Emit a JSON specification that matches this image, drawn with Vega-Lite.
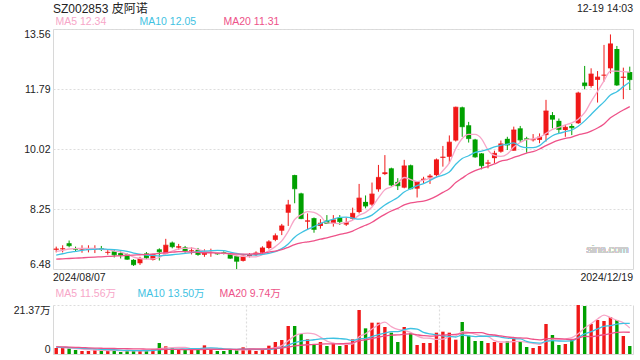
{
  "$schema": "https://vega.github.io/schema/vega-lite/v6.json",
  "autosize": {"type": "pad"},
  "padding": {"left": 13, "top": 3, "right": 6, "bottom": 6},
  "background": "white",
  "config": {
    "font": "Liberation Sans",
    "title": {"font": "Liberation Sans, Noto Sans CJK SC", "fontWeight": "normal", "color": "#222"},
    "axis": {"labelFont": "Liberation Sans, Noto Sans CJK SC", "labelFontSize": 10.5, "labelColor": "#222"},
    "legend": {"labelFont": "Liberation Sans, Noto Sans CJK SC", "labelFontSize": 10.5}
  },
  "title": {"text": "SZ002853 皮阿诺", "anchor": "start", "frame": "group", "fontSize": 12, "offset": -13},
  "datasets": {
    "k": [
      {"d":"2024-08-07","o":7.05,"h":7.14,"l":6.97,"c":7.07,"v":2.62,"m5":7.00,"m10":6.89,"m20":6.77,"v5":3.0,"v10":3.0,"v20":3.2},
      {"d":"2024-08-08","o":7.06,"h":7.18,"l":6.97,"c":7.08,"v":2.62,"m5":7.03,"m10":6.93,"m20":6.78,"v5":2.8,"v10":2.9,"v20":3.1},
      {"d":"2024-08-09","o":7.24,"h":7.32,"l":7.12,"c":7.17,"v":2.47,"m5":7.07,"m10":6.97,"m20":6.79,"v5":2.6,"v10":2.8,"v20":3.0},
      {"d":"2024-08-12","o":7.08,"h":7.14,"l":6.99,"c":7.06,"v":1.74,"m5":7.08,"m10":7.00,"m20":6.80,"v5":2.4,"v10":2.65,"v20":2.9},
      {"d":"2024-08-13","o":7.06,"h":7.18,"l":6.96,"c":7.07,"v":1.31,"m5":7.09,"m10":7.03,"m20":6.81,"v5":2.15,"v10":2.5,"v20":2.8},
      {"d":"2024-08-14","o":7.05,"h":7.18,"l":6.97,"c":7.06,"v":1.31,"m5":7.09,"m10":7.05,"m20":6.82,"v5":1.89,"v10":2.35,"v20":2.7},
      {"d":"2024-08-15","o":7.06,"h":7.18,"l":6.95,"c":7.07,"v":1.89,"m5":7.09,"m10":7.06,"m20":6.83,"v5":1.74,"v10":2.2,"v20":2.6},
      {"d":"2024-08-16","o":7.09,"h":7.16,"l":7.01,"c":7.06,"v":1.45,"m5":7.06,"m10":7.07,"m20":6.84,"v5":1.54,"v10":2.05,"v20":2.5},
      {"d":"2024-08-19","o":6.96,"h":7.04,"l":6.90,"c":6.97,"v":1.45,"m5":7.05,"m10":7.06,"m20":6.85,"v5":1.48,"v10":1.95,"v20":2.45},
      {"d":"2024-08-20","o":7.00,"h":7.04,"l":6.82,"c":6.90,"v":1.60,"m5":7.01,"m10":7.05,"m20":6.86,"v5":1.54,"v10":1.85,"v20":2.4},
      {"d":"2024-08-21","o":6.95,"h":7.00,"l":6.79,"c":6.89,"v":0.87,"m5":6.98,"m10":7.03,"m20":6.87,"v5":1.45,"v10":1.67,"v20":2.35},
      {"d":"2024-08-22","o":6.91,"h":6.94,"l":6.75,"c":6.77,"v":1.31,"m5":6.92,"m10":7.00,"m20":6.88,"v5":1.34,"v10":1.54,"v20":2.3},
      {"d":"2024-08-23","o":6.75,"h":6.77,"l":6.57,"c":6.61,"v":1.74,"m5":6.83,"m10":6.95,"m20":6.89,"v5":1.39,"v10":1.47,"v20":2.25},
      {"d":"2024-08-26","o":6.65,"h":6.84,"l":6.60,"c":6.79,"v":1.60,"m5":6.79,"m10":6.92,"m20":6.90,"v5":1.42,"v10":1.45,"v20":2.2},
      {"d":"2024-08-27","o":6.94,"h":6.98,"l":6.77,"c":6.81,"v":1.45,"m5":6.77,"m10":6.89,"m20":6.91,"v5":1.39,"v10":1.47,"v20":2.15},
      {"d":"2024-08-28","o":6.75,"h":6.93,"l":6.73,"c":6.91,"v":1.89,"m5":6.78,"m10":6.88,"m20":6.92,"v5":1.60,"v10":1.53,"v20":2.1},
      {"d":"2024-08-29","o":7.06,"h":7.09,"l":6.73,"c":6.99,"v":4.80,"m5":6.82,"m10":6.87,"m20":6.94,"v5":2.30,"v10":1.82,"v20":2.08},
      {"d":"2024-08-30","o":6.94,"h":7.37,"l":6.91,"c":7.18,"v":3.34,"m5":6.94,"m10":6.88,"m20":6.96,"v5":2.62,"v10":2.01,"v20":2.05},
      {"d":"2024-09-02","o":7.26,"h":7.29,"l":7.09,"c":7.14,"v":2.47,"m5":7.01,"m10":6.90,"m20":6.975,"v5":2.79,"v10":2.11,"v20":2.02},
      {"d":"2024-09-03","o":7.11,"h":7.22,"l":7.04,"c":7.14,"v":1.89,"m5":7.07,"m10":6.92,"m20":6.99,"v5":2.88,"v10":2.14,"v20":1.99},
      {"d":"2024-09-04","o":7.12,"h":7.16,"l":6.96,"c":7.02,"v":1.89,"m5":7.09,"m10":6.94,"m20":6.99,"v5":2.88,"v10":2.24,"v20":1.95},
      {"d":"2024-09-05","o":7.01,"h":7.12,"l":6.91,"c":7.02,"v":1.89,"m5":7.10,"m10":6.96,"m20":6.98,"v5":2.30,"v10":2.30,"v20":1.92},
      {"d":"2024-09-06","o":7.04,"h":7.10,"l":6.87,"c":6.91,"v":2.18,"m5":7.05,"m10":6.99,"m20":6.97,"v5":2.06,"v10":2.34,"v20":1.90},
      {"d":"2024-09-09","o":6.90,"h":7.06,"l":6.84,"c":6.96,"v":3.78,"m5":7.01,"m10":7.01,"m20":6.96,"v5":2.33,"v10":2.56,"v20":2.01},
      {"d":"2024-09-10","o":6.96,"h":7.08,"l":6.84,"c":6.97,"v":2.47,"m5":6.98,"m10":7.02,"m20":6.96,"v5":2.44,"v10":2.66,"v20":2.06},
      {"d":"2024-09-11","o":6.95,"h":6.98,"l":6.90,"c":6.93,"v":1.31,"m5":6.96,"m10":7.03,"m20":6.95,"v5":2.33,"v10":2.60,"v20":2.06},
      {"d":"2024-09-12","o":6.97,"h":7.00,"l":6.91,"c":6.94,"v":1.31,"m5":6.94,"m10":7.02,"m20":6.95,"v5":2.21,"v10":2.25,"v20":2.03},
      {"d":"2024-09-13","o":6.92,"h":6.94,"l":6.78,"c":6.80,"v":1.74,"m5":6.92,"m10":6.98,"m20":6.93,"v5":2.12,"v10":2.09,"v20":2.05},
      {"d":"2024-09-18","o":6.86,"h":6.88,"l":6.48,"c":6.71,"v":1.74,"m5":6.87,"m10":6.94,"m20":6.92,"v5":1.71,"v10":2.02,"v20":2.06},
      {"d":"2024-09-19","o":6.72,"h":6.88,"l":6.70,"c":6.86,"v":2.91,"m5":6.85,"m10":6.91,"m20":6.92,"v5":1.80,"v10":2.12,"v20":2.13},
      {"d":"2024-09-20","o":6.86,"h":6.95,"l":6.82,"c":6.90,"v":1.89,"m5":6.84,"m10":6.90,"m20":6.92,"v5":1.92,"v10":2.12,"v20":2.18},
      {"d":"2024-09-23","o":6.90,"h":7.00,"l":6.86,"c":6.95,"v":1.31,"m5":6.84,"m10":6.89,"m20":6.93,"v5":1.92,"v10":2.06,"v20":2.18},
      {"d":"2024-09-24","o":6.96,"h":7.15,"l":6.93,"c":7.10,"v":1.89,"m5":6.90,"m10":6.91,"m20":6.95,"v5":1.95,"v10":2.04,"v20":2.19},
      {"d":"2024-09-25","o":7.10,"h":7.33,"l":7.06,"c":7.28,"v":3.63,"m5":7.02,"m10":6.94,"m20":6.98,"v5":2.33,"v10":2.02,"v20":2.29},
      {"d":"2024-09-26","o":7.34,"h":7.53,"l":7.30,"c":7.46,"v":5.23,"m5":7.14,"m10":6.99,"m20":7.01,"v5":2.79,"v10":2.30,"v20":2.48},
      {"d":"2024-09-27","o":7.61,"h":7.81,"l":7.48,"c":7.75,"v":6.11,"m5":7.31,"m10":7.08,"m20":7.05,"v5":3.63,"v10":2.78,"v20":2.69},
      {"d":"2024-09-30","o":8.14,"h":8.52,"l":7.75,"c":8.37,"v":12.21,"m5":7.59,"m10":7.22,"m20":7.12,"v5":5.81,"v10":3.87,"v20":3.06},
      {"d":"2024-10-08","o":9.25,"h":9.26,"l":8.42,"c":8.85,"v":12.21,"m5":7.94,"m10":7.42,"m20":7.20,"v5":7.88,"v10":4.91,"v20":3.50},
      {"d":"2024-10-09","o":8.71,"h":8.73,"l":7.95,"c":7.97,"v":8.72,"m5":8.08,"m10":7.55,"m20":7.25,"v5":8.90,"v10":5.61,"v20":3.82},
      {"d":"2024-10-10","o":7.88,"h":8.12,"l":7.63,"c":7.90,"v":6.40,"m5":8.17,"m10":7.65,"m20":7.28,"v5":9.13,"v10":5.96,"v20":4.04},
      {"d":"2024-10-11","o":7.98,"h":8.00,"l":7.55,"c":7.65,"v":4.36,"m5":8.15,"m10":7.73,"m20":7.31,"v5":8.78,"v10":6.21,"v20":4.16},
      {"d":"2024-10-14","o":7.75,"h":7.95,"l":7.67,"c":7.83,"v":5.23,"m5":8.04,"m10":7.82,"m20":7.36,"v5":7.38,"v10":6.60,"v20":4.33},
      {"d":"2024-10-15","o":7.91,"h":8.07,"l":7.81,"c":7.83,"v":3.49,"m5":7.84,"m10":7.89,"m20":7.40,"v5":5.64,"v10":6.76,"v20":4.40},
      {"d":"2024-10-16","o":7.83,"h":8.07,"l":7.73,"c":7.93,"v":4.65,"m5":7.83,"m10":7.95,"m20":7.45,"v5":4.83,"v10":6.86,"v20":4.44},
      {"d":"2024-10-17","o":7.99,"h":8.07,"l":7.78,"c":7.88,"v":3.49,"m5":7.82,"m10":8.00,"m20":7.50,"v5":4.24,"v10":6.69,"v20":4.49},
      {"d":"2024-10-18","o":7.79,"h":8.00,"l":7.75,"c":7.85,"v":3.92,"m5":7.86,"m10":8.01,"m20":7.54,"v5":4.16,"v10":6.47,"v20":4.62},
      {"d":"2024-10-21","o":7.96,"h":8.29,"l":7.93,"c":8.12,"v":6.40,"m5":7.92,"m10":7.98,"m20":7.60,"v5":4.39,"v10":5.89,"v20":4.88},
      {"d":"2024-10-22","o":8.16,"h":8.99,"l":8.12,"c":8.57,"v":19.19,"m5":8.07,"m10":7.95,"m20":7.69,"v5":7.53,"v10":6.59,"v20":5.75},
      {"d":"2024-10-23","o":8.46,"h":8.65,"l":8.27,"c":8.34,"v":11.19,"m5":8.15,"m10":7.99,"m20":7.77,"v5":8.84,"v10":6.83,"v20":6.22},
      {"d":"2024-10-24","o":8.38,"h":9.03,"l":8.34,"c":8.69,"v":13.66,"m5":8.31,"m10":8.07,"m20":7.86,"v5":10.87,"v10":7.56,"v20":6.76},
      {"d":"2024-10-25","o":8.83,"h":9.55,"l":8.76,"c":9.18,"v":13.66,"m5":8.58,"m10":8.22,"m20":7.98,"v5":12.82,"v10":8.49,"v20":7.35},
      {"d":"2024-10-28","o":9.28,"h":9.84,"l":9.25,"c":9.32,"v":11.77,"m5":8.82,"m10":8.37,"m20":8.09,"v5":13.89,"v10":9.14,"v20":7.87},
      {"d":"2024-10-29","o":9.45,"h":9.47,"l":8.91,"c":8.96,"v":9.30,"m5":8.90,"m10":8.48,"m20":8.19,"v5":11.92,"v10":9.72,"v20":8.24},
      {"d":"2024-10-30","o":9.05,"h":9.16,"l":8.81,"c":8.94,"v":5.23,"m5":9.02,"m10":8.59,"m20":8.27,"v5":10.72,"v10":9.78,"v20":8.32},
      {"d":"2024-10-31","o":8.88,"h":9.70,"l":8.86,"c":9.52,"v":11.77,"m5":9.18,"m10":8.75,"m20":8.37,"v5":10.35,"v10":10.61,"v20":8.65},
      {"d":"2024-11-01","o":9.54,"h":9.56,"l":8.83,"c":8.85,"v":9.01,"m5":9.12,"m10":8.85,"m20":8.43,"v5":9.42,"v10":11.12,"v20":8.79},
      {"d":"2024-11-04","o":8.85,"h":9.07,"l":8.59,"c":9.05,"v":3.92,"m5":9.06,"m10":8.94,"m20":8.46,"v5":7.85,"v10":10.87,"v20":8.38},
      {"d":"2024-11-05","o":9.11,"h":9.20,"l":8.99,"c":9.13,"v":4.80,"m5":9.10,"m10":9.00,"m20":8.48,"v5":6.95,"v10":9.43,"v20":8.01},
      {"d":"2024-11-06","o":9.18,"h":9.28,"l":8.99,"c":9.22,"v":4.80,"m5":9.15,"m10":9.09,"m20":8.54,"v5":6.86,"v10":8.79,"v20":7.81},
      {"d":"2024-11-07","o":9.25,"h":9.74,"l":9.20,"c":9.70,"v":9.30,"m5":9.19,"m10":9.19,"m20":8.63,"v5":6.37,"v10":8.36,"v20":7.96},
      {"d":"2024-11-08","o":9.76,"h":10.11,"l":9.50,"c":9.78,"v":9.74,"m5":9.38,"m10":9.25,"m20":8.74,"v5":6.51,"v10":7.96,"v20":8.23},
      {"d":"2024-11-11","o":9.79,"h":10.42,"l":9.60,"c":10.22,"v":9.30,"m5":9.61,"m10":9.34,"m20":8.85,"v5":7.59,"v10":7.72,"v20":8.43},
      {"d":"2024-11-12","o":10.27,"h":11.27,"l":10.24,"c":11.25,"v":6.25,"m5":10.03,"m10":9.57,"m20":9.03,"v5":7.88,"v10":7.41,"v20":8.57},
      {"d":"2024-11-13","o":11.25,"h":11.27,"l":10.38,"c":10.68,"v":13.96,"m5":10.33,"m10":9.74,"m20":9.16,"v5":9.71,"v10":8.29,"v20":9.03},
      {"d":"2024-11-14","o":10.72,"h":10.82,"l":10.21,"c":10.33,"v":8.00,"m5":10.45,"m10":9.82,"m20":9.29,"v5":9.45,"v10":7.91,"v20":9.26},
      {"d":"2024-11-15","o":10.30,"h":10.32,"l":9.76,"c":9.79,"v":5.67,"m5":10.45,"m10":9.92,"m20":9.38,"v5":8.64,"v10":7.57,"v20":9.35},
      {"d":"2024-11-18","o":9.89,"h":9.90,"l":9.42,"c":9.53,"v":5.67,"m5":10.32,"m10":9.96,"m20":9.45,"v5":7.91,"v10":7.75,"v20":9.31},
      {"d":"2024-11-19","o":9.59,"h":9.70,"l":9.45,"c":9.61,"v":4.80,"m5":9.99,"m10":10.01,"m20":9.51,"v5":7.62,"v10":7.75,"v20":8.59},
      {"d":"2024-11-20","o":9.75,"h":9.97,"l":9.60,"c":9.89,"v":5.23,"m5":9.83,"m10":10.08,"m20":9.58,"v5":5.87,"v10":7.79,"v20":8.29},
      {"d":"2024-11-21","o":9.94,"h":10.27,"l":9.91,"c":10.17,"v":4.80,"m5":9.80,"m10":10.13,"m20":9.66,"v5":5.23,"v10":7.34,"v20":7.85},
      {"d":"2024-11-22","o":10.32,"h":10.38,"l":9.99,"c":10.14,"v":5.67,"m5":9.87,"m10":10.16,"m20":9.70,"v5":5.23,"v10":6.94,"v20":7.45},
      {"d":"2024-11-25","o":9.97,"h":10.68,"l":9.97,"c":10.58,"v":6.69,"m5":10.08,"m10":10.20,"m20":9.77,"v5":5.44,"v10":6.67,"v20":7.20},
      {"d":"2024-11-26","o":10.63,"h":10.70,"l":10.21,"c":10.29,"v":5.23,"m5":10.21,"m10":10.10,"m20":9.83,"v5":5.52,"v10":6.57,"v20":6.99},
      {"d":"2024-11-27","o":10.33,"h":10.38,"l":9.91,"c":10.31,"v":3.05,"m5":10.30,"m10":10.06,"m20":9.90,"v5":5.09,"v10":5.48,"v20":6.88},
      {"d":"2024-11-28","o":10.28,"h":10.46,"l":10.24,"c":10.30,"v":2.62,"m5":10.32,"m10":10.06,"m20":9.94,"v5":4.65,"v10":4.94,"v20":6.43},
      {"d":"2024-11-29","o":10.29,"h":10.48,"l":10.19,"c":10.37,"v":3.49,"m5":10.37,"m10":10.12,"m20":10.02,"v5":4.22,"v10":4.73,"v20":6.15},
      {"d":"2024-12-02","o":10.43,"h":11.47,"l":10.24,"c":11.14,"v":13.08,"m5":10.48,"m10":10.28,"m20":10.12,"v5":5.49,"v10":5.47,"v20":6.61},
      {"d":"2024-12-03","o":11.02,"h":11.11,"l":10.63,"c":10.90,"v":8.29,"m5":10.60,"m10":10.41,"m20":10.21,"v5":6.11,"v10":5.82,"v20":6.78},
      {"d":"2024-12-04","o":10.85,"h":10.92,"l":10.48,"c":10.60,"v":3.92,"m5":10.66,"m10":10.48,"m20":10.28,"v5":6.28,"v10":5.68,"v20":6.74},
      {"d":"2024-12-05","o":10.58,"h":10.73,"l":10.38,"c":10.66,"v":4.36,"m5":10.73,"m10":10.53,"m20":10.33,"v5":6.63,"v10":5.64,"v20":6.49},
      {"d":"2024-12-06","o":10.70,"h":10.76,"l":10.43,"c":10.65,"v":6.25,"m5":10.79,"m10":10.58,"m20":10.37,"v5":7.18,"v10":5.70,"v20":6.32},
      {"d":"2024-12-09","o":10.78,"h":11.71,"l":10.76,"c":11.67,"v":21.37,"m5":10.90,"m10":10.69,"m20":10.44,"v5":8.84,"v10":7.17,"v20":6.92},
      {"d":"2024-12-10","o":11.98,"h":12.47,"l":11.78,"c":11.89,"v":20.93,"m5":11.09,"m10":10.85,"m20":10.48,"v5":11.37,"v10":8.74,"v20":7.65},
      {"d":"2024-12-11","o":11.88,"h":12.40,"l":11.83,"c":12.23,"v":13.08,"m5":11.42,"m10":11.04,"m20":10.55,"v5":13.20,"v10":9.74,"v20":7.61},
      {"d":"2024-12-12","o":12.06,"h":12.32,"l":11.39,"c":12.14,"v":14.83,"m5":11.72,"m10":11.23,"m20":10.64,"v5":15.29,"v10":10.96,"v20":7.95},
      {"d":"2024-12-13","o":12.19,"h":13.09,"l":12.01,"c":12.20,"v":14.39,"m5":12.03,"m10":11.41,"m20":10.76,"v5":16.92,"v10":12.05,"v20":8.39},
      {"d":"2024-12-16","o":12.40,"h":13.40,"l":12.25,"c":13.12,"v":16.14,"m5":12.32,"m10":11.61,"m20":10.94,"v5":15.87,"v10":12.36,"v20":8.91},
      {"d":"2024-12-17","o":12.97,"h":13.06,"l":11.88,"c":11.91,"v":14.83,"m5":12.32,"m10":11.71,"m20":11.06,"v5":14.65,"v10":13.01,"v20":9.41},
      {"d":"2024-12-18","o":12.12,"h":12.42,"l":11.49,"c":12.14,"v":7.85,"m5":12.30,"m10":11.86,"m20":11.17,"v5":13.61,"v10":13.40,"v20":9.54},
      {"d":"2024-12-19","o":12.29,"h":12.45,"l":11.76,"c":12.07,"v":3.49,"m5":12.29,"m10":12.00,"m20":11.27,"v5":11.34,"v10":13.32,"v20":9.48}
    ]
  },
  "vconcat": [
    {
      "width": 580,
      "height": 240,
      "data": {"name": "k"},
      "view": {"stroke": "#d8d8d8"},
      "title": {"text": "12-19 14:03", "anchor": "end", "frame": "group", "fontSize": 10.5, "offset": 3},
      "encoding": {
        "x": {
          "field": "d", "type": "ordinal",
          "scale": {"paddingInner": 0, "paddingOuter": 0},
          "axis": {
            "title": null, "values": ["2024-08-07", "2024-12-19"],
            "labelExpr": "slice(datum.value,0,4)+'/'+slice(datum.value,5,7)+'/'+slice(datum.value,8,10)",
            "labelAlign": {"condition": {"test": "datum.value == '2024-08-07'", "value": "left"}, "value": "right"},
            "labelOffset": {"condition": {"test": "datum.value == '2024-08-07'", "value": -3.2}, "value": 3.2},
            "labelAngle": 0, "labelPadding": 3, "domain": false, "ticks": false, "grid": false
          }
        }
      },
      "layer": [
        {
          "mark": {"type": "rule", "strokeWidth": 1},
          "encoding": {
            "y": {
              "field": "l", "type": "quantitative",
              "scale": {"domain": [6.48, 13.56], "zero": false, "nice": false},
              "axis": {
                "title": null, "values": [6.48, 8.25, 10.02, 11.79, 13.56], "format": ".2f",
                "labelFlush": true, "labelFlushOffset": 0, "domain": false, "ticks": false, "labelPadding": 3,
                "grid": true, "gridColor": "#dddddd", "gridDash": [2, 2], "gridWidth": 1.2
              }
            },
            "y2": {"field": "h"},
            "color": {"condition": {"test": "datum.c >= datum.o", "value": "#f01818"}, "value": "#00a000"}
          }
        },
        {
          "mark": {"type": "bar", "width": 5},
          "encoding": {
            "y": {"field": "o", "type": "quantitative"},
            "y2": {"field": "c"},
            "color": {"condition": {"test": "datum.c >= datum.o", "value": "#f01818"}, "value": "#00a000"}
          }
        },
        {
          "mark": {"type": "tick", "size": 5, "thickness": 1.2},
          "encoding": {
            "y": {"field": "c", "type": "quantitative"},
            "color": {"condition": {"test": "datum.c >= datum.o", "value": "#f01818"}, "value": "#00a000"}
          }
        },
        {
          "mark": {"type": "line", "strokeWidth": 1.3, "interpolate": "monotone"},
          "encoding": {
            "y": {"field": "m5", "type": "quantitative"},
            "color": {
              "datum": "MA5 12.34", "type": "nominal",
              "scale": {"domain": ["MA5 12.34", "MA10 12.05", "MA20 11.31"], "range": ["#f7a6c8", "#3fc2e2", "#ee5289"]},
              "legend": {
                "title": null, "orient": "none", "legendX": -8, "legendY": -12, "direction": "horizontal",
                "symbolSize": 0, "symbolOpacity": 0, "symbolStrokeWidth": 0, "labelOffset": 0,
                "columnPadding": 16, "gridAlign": "all", "padding": 0,
                "encode": {"labels": {"update": {"fill": {"signal": "indexof(datum.value,'MA5 ')==0 ? '#f7a6c8' : indexof(datum.value,'MA10')==0 ? '#3fc2e2' : '#ee5289'"}}}}
              }
            }
          }
        },
        {
          "mark": {"type": "line", "strokeWidth": 1.3, "interpolate": "monotone"},
          "encoding": {
            "y": {"field": "m10", "type": "quantitative"},
            "color": {"datum": "MA10 12.05", "type": "nominal"}
          }
        },
        {
          "mark": {"type": "line", "strokeWidth": 1.3, "interpolate": "monotone"},
          "encoding": {
            "y": {"field": "m20", "type": "quantitative"},
            "color": {"datum": "MA20 11.31", "type": "nominal"}
          }
        },
        {
          "mark": {"type": "text", "color": "#cccccc", "fontSize": 10.5, "dx": 10},
          "encoding": {
            "x": {"datum": "2024-12-12", "type": "ordinal"},
            "y": {"datum": 7.04, "type": "quantitative"},
            "text": {"value": "sina.com"}
          }
        }
      ]
    },
    {
      "width": 580,
      "height": 49,
      "data": {"name": "k"},
      "view": {"stroke": null},
      "resolve": {"axis": {"y": "independent"}},
      "encoding": {
        "x": {"field": "d", "type": "ordinal", "scale": {"paddingInner": 0, "paddingOuter": 0}}
      },
      "layer": [
        {
          "mark": {"type": "bar", "width": 3.4},
          "encoding": {
            "x": {
              "field": "d", "type": "ordinal",
              "axis": {
                "title": null, "values": ["2024-09-20", "2024-11-08"], "bandPosition": 0,
                "labels": false, "ticks": false, "grid": true, "gridDash": [2, 2], "gridColor": "#dddddd", "gridWidth": 1.2,
                "domain": true, "domainColor": "#d8d8d8"
              }
            },
            "y": {
              "field": "v", "type": "quantitative",
              "scale": {"domain": [0, 21.37], "nice": false},
              "axis": {
                "title": null, "values": [0, 21.37],
                "labelExpr": "datum.value == 0 ? '0' : format(datum.value, '.2f') + '万'",
                "labelFlush": true, "labelFlushOffset": 0, "labelPadding": 3, "ticks": false,
                "domain": true, "domainColor": "#d8d8d8",
                "grid": true, "gridDash": [2, 2], "gridColor": "#dddddd", "gridWidth": 1.2
              }
            },
            "color": {"condition": {"test": "datum.c >= datum.o", "value": "#f01818"}, "value": "#00a000"}
          }
        },
        {
          "mark": {"type": "line", "strokeWidth": 1.3, "interpolate": "monotone"},
          "encoding": {
            "y": {
              "field": "v5", "type": "quantitative",
              "axis": {"orient": "right", "title": null, "labels": false, "ticks": false, "grid": false, "domain": true, "domainColor": "#d8d8d8"}
            },
            "color": {
              "datum": "MA5 11.56万", "type": "nominal",
              "scale": {"domain": ["MA5 11.56万", "MA10 13.50万", "MA20 9.74万"], "range": ["#f7a6c8", "#3fc2e2", "#ee5289"]},
              "legend": {
                "title": null, "orient": "none", "legendX": -8, "legendY": -16, "direction": "horizontal",
                "symbolSize": 0, "symbolOpacity": 0, "symbolStrokeWidth": 0, "labelOffset": 0,
                "columnPadding": 4, "gridAlign": "all", "padding": 0,
                "encode": {"labels": {"update": {"fill": {"signal": "indexof(datum.value,'MA5 ')==0 ? '#f7a6c8' : indexof(datum.value,'MA10')==0 ? '#3fc2e2' : '#ee5289'"}}}}
              }
            }
          }
        },
        {
          "mark": {"type": "line", "strokeWidth": 1.3, "interpolate": "monotone"},
          "encoding": {
            "y": {"field": "v10", "type": "quantitative", "axis": null},
            "color": {"datum": "MA10 13.50万", "type": "nominal"}
          }
        },
        {
          "mark": {"type": "line", "strokeWidth": 1.3, "interpolate": "monotone"},
          "encoding": {
            "y": {"field": "v20", "type": "quantitative", "axis": null},
            "color": {"datum": "MA20 9.74万", "type": "nominal"}
          }
        }
      ]
    }
  ],
  "spacing": 36,
  "bounds": "flush",
  "resolve": {"scale": {"color": "independent"}}
}
